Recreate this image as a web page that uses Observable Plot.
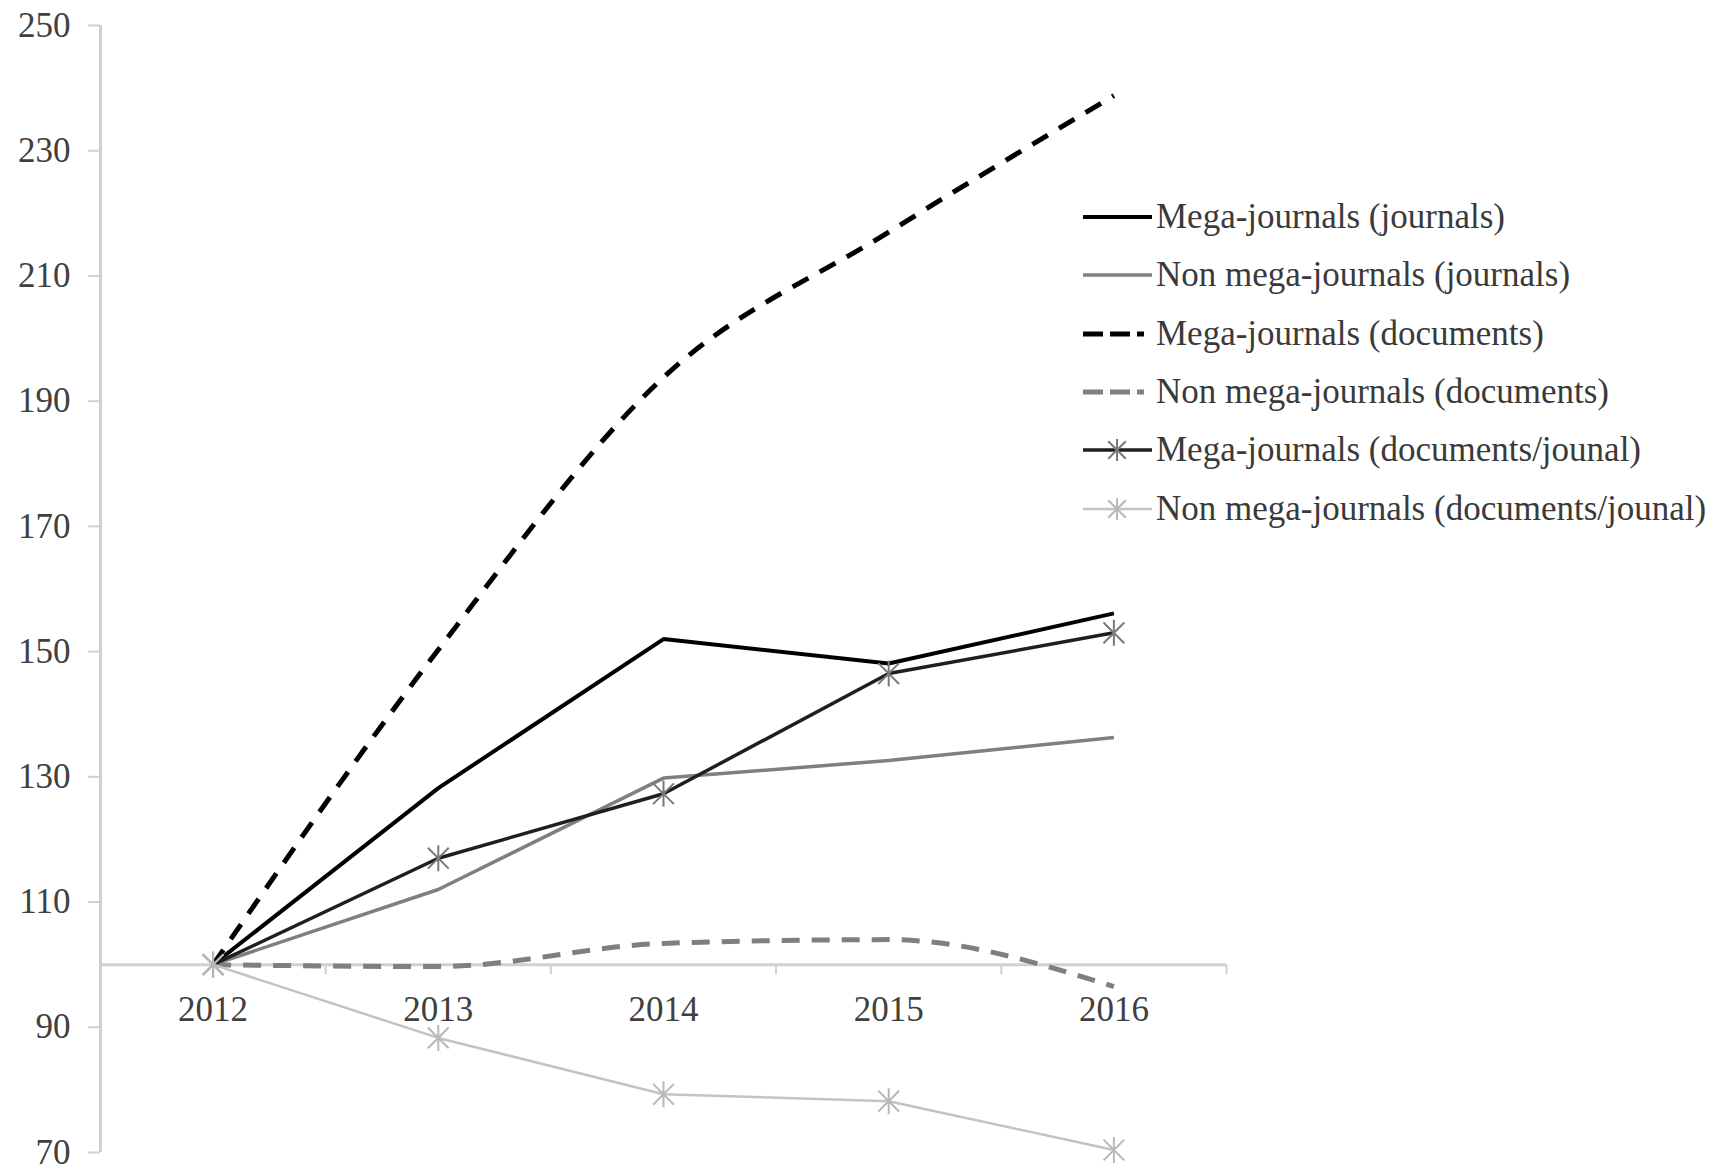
<!DOCTYPE html>
<html>
<head>
<meta charset="utf-8">
<script src="https://cdn.jsdelivr.net/npm/d3@7"></script>
<script src="https://cdn.jsdelivr.net/npm/@observablehq/plot@0.6"></script>
<style>
  html, body { margin: 0; padding: 0; background: #fff; }
  #wrap { position: relative; width: 1711px; height: 1171px; font-family: "Liberation Serif", "Times New Roman", serif; }
  #legend { position: absolute; left: 1081px; top: 188px; }
  .row { display: flex; align-items: center; height: 58.3px; }
  .row span { font-size: 35px; color: #3a3a3a; white-space: nowrap; margin-left: 3px; }
  .row svg { display: block; }
</style>
</head>
<body>
<div id="wrap"><div id="chart"></div><div id="legend"></div></div>
<script>
// ---- data ----
const years = [2012, 2013, 2014, 2015, 2016];
const seriesNames = [
  "Mega-journals (journals)",
  "Non mega-journals (journals)",
  "Mega-journals (documents)",
  "Non mega-journals (documents)",
  "Mega-journals (documents/jounal)",
  "Non mega-journals (documents/jounal)"
];
const megaJournals          = [100, 128.2, 152.0, 148.1, 156.1];
const nonMegaJournals       = [100, 112.0, 129.8, 132.6, 136.3];
const megaDocuments         = [100, 150.3, 193.8, 217.0, 238.8];
const nonMegaDocuments      = [100, 99.7, 103.4, 104.0, 96.5];
const megaDocsPerJournal    = [100, 117.0, 127.3, 146.5, 153.0];
const nonMegaDocsPerJournal = [100, 88.3, 79.3, 78.2, 70.4];
const yTicks = [70, 90, 110, 130, 150, 170, 190, 210, 230, 250];
const baseline = 100;

// ---- styles ----
const seriesValues = [megaJournals, nonMegaJournals, megaDocuments, nonMegaDocuments, megaDocsPerJournal, nonMegaDocsPerJournal];
const styles = [
  {stroke: "#000000", strokeWidth: 4, dash: null, curve: "linear", marker: null},
  {stroke: "#7f7f7f", strokeWidth: 3.5, dash: null, curve: "linear", marker: null},
  {stroke: "#000000", strokeWidth: 5, dash: "18,13", curve: "monotone-x", marker: null},
  {stroke: "#7f7f7f", strokeWidth: 5, dash: "18,12", curve: "monotone-x", marker: null},
  {stroke: "#1f1f1f", strokeWidth: 3.5, dash: null, curve: "linear", marker: "#7a7a7a"},
  {stroke: "#c3c3c3", strokeWidth: 2.5, dash: null, curve: "linear", marker: "#b8b8b8"}
];

const rows = [];
seriesNames.forEach((name, s) => years.forEach((yr, i) => rows.push({series: name, year: yr, value: seriesValues[s][i], s})));

// Excel-like asterisk: vertical bar plus an X
const asterisk = {
  draw(context, size) {
    const r = Math.sqrt(size / Math.PI);
    const d = r * 0.8;
    context.moveTo(0, -r); context.lineTo(0, r);
    context.moveTo(-d, -d); context.lineTo(d, d);
    context.moveTo(-d, d); context.lineTo(d, -d);
  }
};

const boundaries = [years[0] - 0.5, ...years.map(y => y + 0.5)];
const font = "Liberation Serif, Times New Roman, serif";

const marks = [
  Plot.ruleX([boundaries[0]], {stroke: "#d0d0d0", strokeWidth: 3}),
  Plot.ruleY([baseline], {stroke: "#d0d0d0", strokeWidth: 3}),
  Plot.ruleX(boundaries, {y1: baseline, y2: baseline, insetBottom: -10, stroke: "#d0d0d0", strokeWidth: 2}),
  Plot.axisY({ticks: yTicks, tickSize: 12, tickPadding: 18, stroke: "#d0d0d0", strokeWidth: 2, fill: "#404040", fontSize: 35, label: null, tickFormat: d => String(d)}),
  Plot.text(years, {x: d => d, y: () => baseline, dy: 45, text: d => String(d), fill: "#404040", fontSize: 35, textAnchor: "middle"})
];

styles.forEach((st, s) => {
  const data = rows.filter(r => r.s === s);
  marks.push(Plot.line(data, {x: "year", y: "value", stroke: st.stroke, strokeWidth: st.strokeWidth,
    strokeDasharray: st.dash || undefined, curve: st.curve, strokeLinecap: "butt", strokeLinejoin: "round"}));
  if (st.marker) {
    marks.push(Plot.dot(data, {x: "year", y: "value", symbol: asterisk, r: 13, stroke: st.marker, strokeWidth: 2, fill: "none"}));
  }
});

const chart = Plot.plot({
  width: 1711,
  height: 1171,
  marginLeft: 100,
  marginRight: 485,
  marginTop: 25,
  marginBottom: 19,
  style: {fontFamily: font, background: "#fff", overflow: "visible"},
  x: {type: "linear", domain: [boundaries[0], boundaries[boundaries.length - 1]], axis: null},
  y: {domain: [yTicks[0], yTicks[yTicks.length - 1]], axis: null},
  marks
});
document.getElementById("chart").appendChild(chart);

// ---- legend ----
const legend = document.getElementById("legend");
const NS = "http://www.w3.org/2000/svg";
styles.forEach((st, s) => {
  const row = document.createElement("div");
  row.className = "row";
  const svg = document.createElementNS(NS, "svg");
  svg.setAttribute("width", 72); svg.setAttribute("height", 30);
  const line = document.createElementNS(NS, "line");
  line.setAttribute("x1", 2); line.setAttribute("x2", 71); line.setAttribute("y1", 15); line.setAttribute("y2", 15);
  line.setAttribute("stroke", st.stroke); line.setAttribute("stroke-width", st.strokeWidth);
  if (st.dash) line.setAttribute("stroke-dasharray", "20,7,20,7,7");
  svg.appendChild(line);
  if (st.marker) {
    const p = document.createElementNS(NS, "path");
    const path = d3.path();
    asterisk.draw(path, Math.PI * 11 * 11);
    p.setAttribute("d", path.toString());
    p.setAttribute("transform", "translate(36,15)");
    p.setAttribute("stroke", st.marker); p.setAttribute("stroke-width", 2); p.setAttribute("fill", "none");
    svg.appendChild(p);
  }
  row.appendChild(svg);
  const span = document.createElement("span");
  span.textContent = seriesNames[s];
  row.appendChild(span);
  legend.appendChild(row);
});
</script>
</body>
</html>
